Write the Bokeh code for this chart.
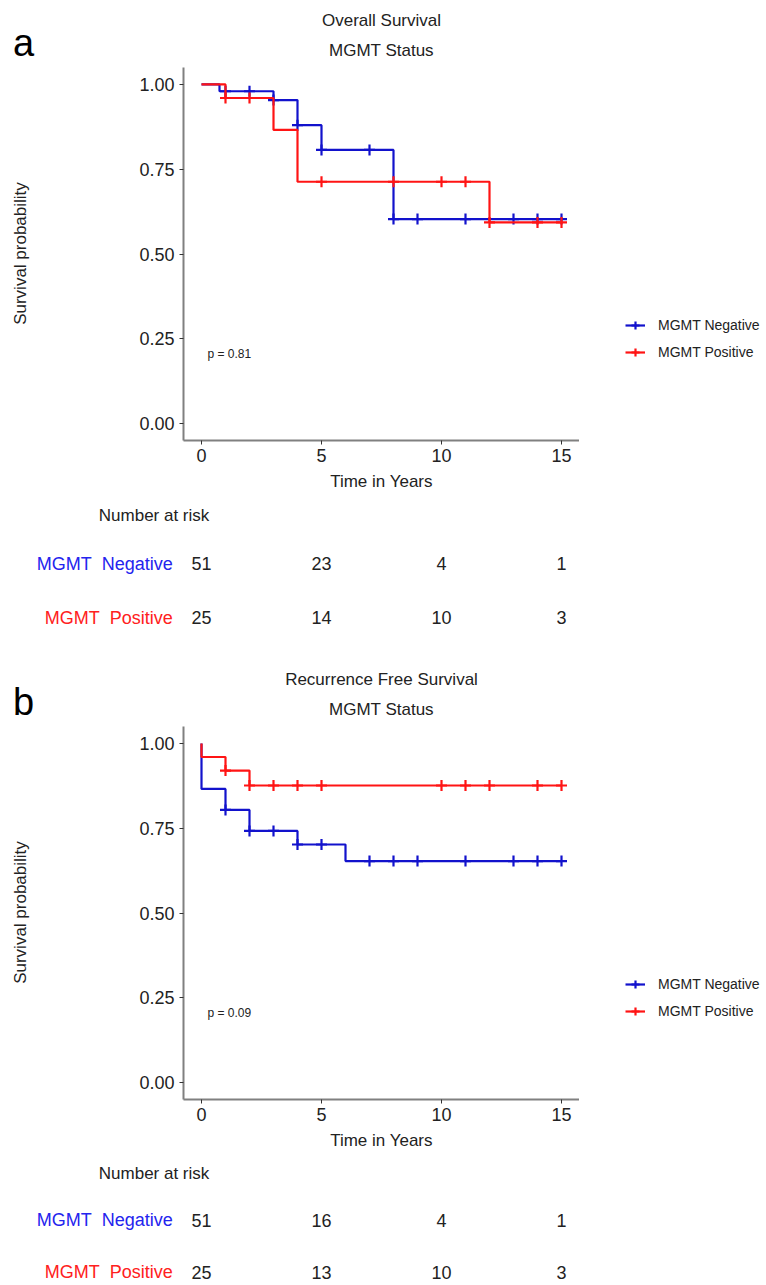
import math
from bokeh.plotting import figure
from bokeh.layouts import column, row
from bokeh.models import (Range1d, FixedTicker, NumeralTickFormatter, Legend,
                          LegendItem, Title)
from bokeh.embed import file_html
from bokeh.resources import INLINE
from bokeh.core.properties import value

FONT = "Liberation Sans"
BLUE = "#1212CC"
RED = "#FF1414"
BLUE_TXT = "#2424EE"
RED_TXT = "#FF2020"
DARK = "#222222"

# ---------------- data ----------------
x_ticks = [0, 5, 10, 15]
y_ticks = [0, 0.25, 0.5, 0.75, 1.0]
legend_labels = ["MGMT Negative", "MGMT Positive"]
strata_labels = ["MGMT\u00a0 Negative", "MGMT\u00a0 Positive"]

# Overall survival
os_neg_t = [0, 0.75, 3, 4, 5, 8, 15]
os_neg_s = [1.0, 0.980, 0.954, 0.880, 0.807, 0.603, 0.603]
os_neg_cens_t = [1, 2, 3, 4, 5, 7, 8, 9, 11, 13, 14, 15]
os_neg_cens_s = [0.980, 0.980, 0.954, 0.880, 0.807, 0.807, 0.603, 0.603, 0.603, 0.603, 0.603, 0.603]
os_pos_t = [0, 1, 3, 4, 12, 15]
os_pos_s = [1.0, 0.960, 0.866, 0.713, 0.593, 0.593]
os_pos_cens_t = [1, 2, 5, 8, 10, 11, 12, 14, 15]
os_pos_cens_s = [0.960, 0.960, 0.713, 0.713, 0.713, 0.713, 0.593, 0.593, 0.593]
os_pval = "p = 0.81"
os_risk_neg = [51, 23, 4, 1]
os_risk_pos = [25, 14, 10, 3]

# Recurrence free survival
rfs_neg_t = [0, 0, 1, 2, 4, 6, 15]
rfs_neg_s = [1.0, 0.866, 0.804, 0.742, 0.702, 0.653, 0.653]
rfs_neg_cens_t = [1, 2, 3, 4, 5, 7, 8, 9, 11, 13, 14, 15]
rfs_neg_cens_s = [0.804, 0.742, 0.742, 0.702, 0.702, 0.653, 0.653, 0.653, 0.653, 0.653, 0.653, 0.653]
rfs_pos_t = [0, 0, 1, 2, 15]
rfs_pos_s = [1.0, 0.960, 0.920, 0.876, 0.876]
rfs_pos_cens_t = [1, 2, 3, 4, 5, 10, 11, 12, 14, 15]
rfs_pos_cens_s = [0.920, 0.876, 0.876, 0.876, 0.876, 0.876, 0.876, 0.876, 0.876, 0.876]
rfs_pval = "p = 0.09"
rfs_risk_neg = [51, 16, 4, 1]
rfs_risk_pos = [25, 13, 10, 3]

# ---------------- layout constants ----------------
W = 766
STRIP_W = 40
FRAME_L = 183          # page x of plot frame left
FRAME_W = 396          # plot frame width (x from -0.75 to 15.75)
KM_W = FRAME_L + FRAME_W - STRIP_W
LEG_W = W - STRIP_W - KM_W
H1 = 500
TOP = 67
BOT = 60
PX_PER_YEAR = FRAME_W / 16.5


def bare(width, height, xr, yr):
    f = figure(width=width, height=height, x_range=xr, y_range=yr,
               output_backend="svg", toolbar_location=None,
               min_border_left=0, min_border_right=0, min_border_top=0,
               min_border_bottom=0, x_axis_type=None, y_axis_type=None,
               background_fill_color="white", border_fill_color="white",
               frame_align=False)
    f.outline_line_color = None
    f.grid.visible = False
    return f


def km_panel(title, letter, pval, neg, pos):
    # left strip: panel letter and y axis title
    strip = bare(STRIP_W, H1, Range1d(0, STRIP_W), Range1d(H1, 0))
    strip.text(x=[12.5], y=[42], text=[letter], text_font=value(FONT),
               text_font_size="38px", text_baseline="alphabetic",
               text_align="left", text_color="#000000")
    strip.text(x=[19.5], y=[253], text=["Survival probability"],
               angle=math.pi / 2, text_font=value(FONT), text_font_size="17px",
               text_baseline="middle", text_align="center", text_color=DARK)

    p = figure(width=KM_W, height=H1, x_range=Range1d(-0.75, 15.75),
               y_range=Range1d(-0.05, 1.05), output_backend="svg",
               toolbar_location=None, min_border_left=FRAME_L - STRIP_W,
               min_border_right=0, min_border_top=TOP, min_border_bottom=BOT,
               background_fill_color="white", border_fill_color="white",
               frame_align=False)
    p.outline_line_color = None
    p.grid.visible = False

    p.add_layout(Title(text="MGMT Status", align="center", text_font=FONT,
                       text_font_size="17px", text_font_style="normal",
                       text_color=DARK, standoff=16), "above")
    p.add_layout(Title(text=title, align="center", text_font=FONT,
                       text_font_size="17px", text_font_style="normal",
                       text_color=DARK, standoff=2), "above")

    for ax in (p.xaxis[0], p.yaxis[0]):
        ax.axis_line_color = "#808080"
        ax.axis_line_width = 2
        ax.major_tick_line_color = "#333333"
        ax.major_tick_line_width = 1
        ax.major_tick_out = 4
        ax.major_tick_in = 0
        ax.minor_tick_line_color = None
        ax.major_label_text_font = FONT
        ax.major_label_text_font_size = "18px"
        ax.major_label_text_color = DARK
        ax.axis_label_text_font = FONT
        ax.axis_label_text_font_size = "17px"
        ax.axis_label_text_font_style = "normal"
        ax.axis_label_text_color = DARK
    p.xaxis.ticker = FixedTicker(ticks=x_ticks)
    p.yaxis.ticker = FixedTicker(ticks=y_ticks)
    p.yaxis.formatter = NumeralTickFormatter(format="0.00")
    p.xaxis.axis_label = "Time in Years"
    p.xaxis.major_label_standoff = 4
    p.xaxis.axis_label_standoff = 7
    p.yaxis.major_label_standoff = 5

    (nt, ns, nct, ncs), (pt, ps, pct, pcs) = neg, pos
    p.step(nt, ns, mode="after", line_color=BLUE, line_width=2.2)
    p.scatter(nct, ncs, marker="cross", size=11, line_color=BLUE, line_width=2.2)
    p.step(pt, ps, mode="after", line_color=RED, line_width=2.2)
    p.scatter(pct, pcs, marker="cross", size=11, line_color=RED, line_width=2.2)

    p.text(x=[0.25], y=[0.206], text=[pval], text_font=value(FONT),
           text_font_size="12px", text_baseline="middle", text_align="left",
           text_color=DARK)

    # right strip: legend (its renderers hold the same series, out of view)
    lg = bare(LEG_W, H1, Range1d(100, 101), Range1d(100, 101))
    l1 = lg.line(x=nt, y=ns, line_color=BLUE, line_width=2.2)
    m1 = lg.scatter(x=nct, y=ncs, marker="cross", size=11, line_color=BLUE, line_width=2.2)
    l2 = lg.line(x=pt, y=ps, line_color=RED, line_width=2.2)
    m2 = lg.scatter(x=pct, y=pcs, marker="cross", size=11, line_color=RED, line_width=2.2)
    legend = Legend(items=[LegendItem(label=legend_labels[0], renderers=[l1, m1]),
                           LegendItem(label=legend_labels[1], renderers=[l2, m2])],
                    location=(46, H1 - 362), border_line_color=None,
                    background_fill_alpha=0, label_text_font=FONT,
                    label_text_font_size="14px", label_text_color=DARK,
                    glyph_width=20, glyph_height=20, label_height=20,
                    spacing=7, padding=0, margin=0, label_standoff=13)
    lg.add_layout(legend)
    return row(strip, p, lg, spacing=0)


def risk_table(risk_neg, risk_pos, height, ybot):
    x0 = -(FRAME_L + 0.75 * PX_PER_YEAR) / PX_PER_YEAR
    x1 = x0 + W / PX_PER_YEAR
    ytop = 1 + 63 / 54
    t = bare(W, height, Range1d(x0, x1), Range1d(ybot, ytop))
    t.text(x=[-4.28], y=[1.889], text=["Number at risk"], text_font=value(FONT),
           text_font_size="17px", text_baseline="middle", text_align="left",
           text_color=DARK)
    t.text(x=[-1.2, -1.2], y=[1, 0], text=strata_labels, text_font=value(FONT),
           text_font_size="18px", text_baseline="middle", text_align="right",
           text_color=[BLUE_TXT, RED_TXT])
    t.text(x=x_ticks, y=[1] * len(x_ticks), text=[str(v) for v in risk_neg],
           text_font=value(FONT), text_font_size="18px", text_baseline="middle",
           text_align="center", text_color=DARK)
    t.text(x=x_ticks, y=[0] * len(x_ticks), text=[str(v) for v in risk_pos],
           text_font=value(FONT), text_font_size="18px", text_baseline="middle",
           text_align="center", text_color=DARK)
    return t


pa = km_panel("Overall Survival", "a", os_pval,
              (os_neg_t, os_neg_s, os_neg_cens_t, os_neg_cens_s),
              (os_pos_t, os_pos_s, os_pos_cens_t, os_pos_cens_s))
ta = risk_table(os_risk_neg, os_risk_pos, 159, 1 + 63 / 54 - 159 / 54)
pb = km_panel("Recurrence Free Survival", "b", rfs_pval,
              (rfs_neg_t, rfs_neg_s, rfs_neg_cens_t, rfs_neg_cens_s),
              (rfs_pos_t, rfs_pos_s, rfs_pos_cens_t, rfs_pos_cens_s))
tb = risk_table(rfs_risk_neg, rfs_risk_pos, 126, -0.25)

layout = column(pa, ta, pb, tb, spacing=0)
open("out.html", "w").write(file_html(layout, INLINE))
